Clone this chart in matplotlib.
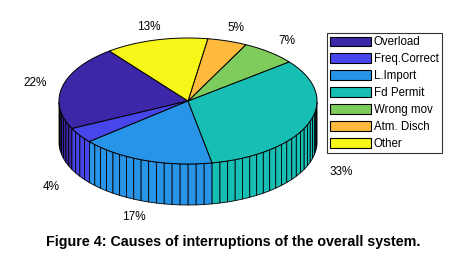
import numpy as np
import matplotlib
matplotlib.use("Agg")
import matplotlib.pyplot as plt
from matplotlib.patches import Polygon, Patch

# ---- data ----
categories = ["Overload", "Freq.Correct", "L.Import", "Fd Permit", "Wrong mov", "Atm. Disch", "Other"]
values = [22, 4, 17, 33, 7, 5, 13]
pct_labels = ["22%", "4%", "17%", "33%", "7%", "5%", "13%"]
colors = ["#3E26A8", "#4646EA", "#2894E8", "#17BEB4", "#7ECC5C", "#FDBA3D", "#F8F618"]
caption = "Figure 4: Causes of interruptions of the overall system."

# ---- layout (pixel-like canvas) ----
W, H = 462, 269
cx, cy = 188, 101      # centre of top face
ra, rb = 129, 63       # semi-axes of top ellipse
thick = 41             # pie thickness
start = 127.5          # start angle (deg), counter-clockwise
step = 3.6             # facet size for the sides

plt.rcParams['font.family'] = ['Liberation Sans', 'DejaVu Sans']
fig = plt.figure(figsize=(W / 100, H / 100), dpi=100)
ax = fig.add_axes([0, 0, 1, 1])
ax.set_xlim(0, W)
ax.set_ylim(H, 0)
ax.axis('off')

def pt(theta_deg, r=1.0, dz=0.0):
    t = np.radians(theta_deg)
    return cx + r * ra * np.cos(t), cy - r * rb * np.sin(t) + dz

vals = np.array(values, dtype=float)
spans = vals / vals.sum() * 360.0
edges = start + np.concatenate([[0], np.cumsum(spans)])

# sides (front half only: angles 180..360 mod 360)
for i in range(len(values)):
    a0, a1 = edges[i], edges[i + 1]
    n = max(1, int(np.ceil((a1 - a0) / step)))
    ts = np.linspace(a0, a1, n + 1)
    for t0, t1 in zip(ts[:-1], ts[1:]):
        tm = (t0 + t1) / 2 % 360
        if not (180 <= tm <= 360):
            continue
        p0 = pt(t0); p1 = pt(t1)
        quad = [p0, p1, (p1[0], p1[1] + thick), (p0[0], p0[1] + thick)]
        ax.add_patch(Polygon(quad, closed=True, facecolor=colors[i],
                             edgecolor='black', linewidth=0.6, zorder=1))

# top faces
for i in range(len(values)):
    a0, a1 = edges[i], edges[i + 1]
    ts = np.linspace(a0, a1, 200)
    xs, ys = pt(ts)
    poly = [(cx, cy)] + list(zip(xs, ys))
    ax.add_patch(Polygon(poly, closed=True, facecolor=colors[i],
                         edgecolor='black', linewidth=0.7, zorder=2))

# percentage labels
for i in range(len(values)):
    mid = (edges[i] + edges[i + 1]) / 2
    c = np.cos(np.radians(mid))
    s = np.sin(np.radians(mid))
    dz = thick + 3 if s < 0 else 0
    x, y = pt(mid, 1.22, dz)
    ax.text(x + 6 * c * (s < 0), y, pct_labels[i], ha='center', va='center',
            fontsize=8.5, zorder=3)

# legend
handles = [Patch(facecolor=c, edgecolor='black', linewidth=0.8) for c in colors]
leg = ax.legend(handles, categories, loc='upper left',
                bbox_to_anchor=(327 / W, 1 - 33 / H), fontsize=8.3,
                frameon=True, fancybox=False, edgecolor='black',
                handlelength=3.5, handleheight=0.95, handletextpad=0.25,
                labelspacing=0.42, borderpad=0.3, borderaxespad=0)
leg.get_frame().set_linewidth(0.8)

# caption
ax.text(W / 2 + 2, 242, caption, ha='center', va='center', fontsize=10.3,
        fontweight='bold')

fig.savefig("out.png", dpi=100)
